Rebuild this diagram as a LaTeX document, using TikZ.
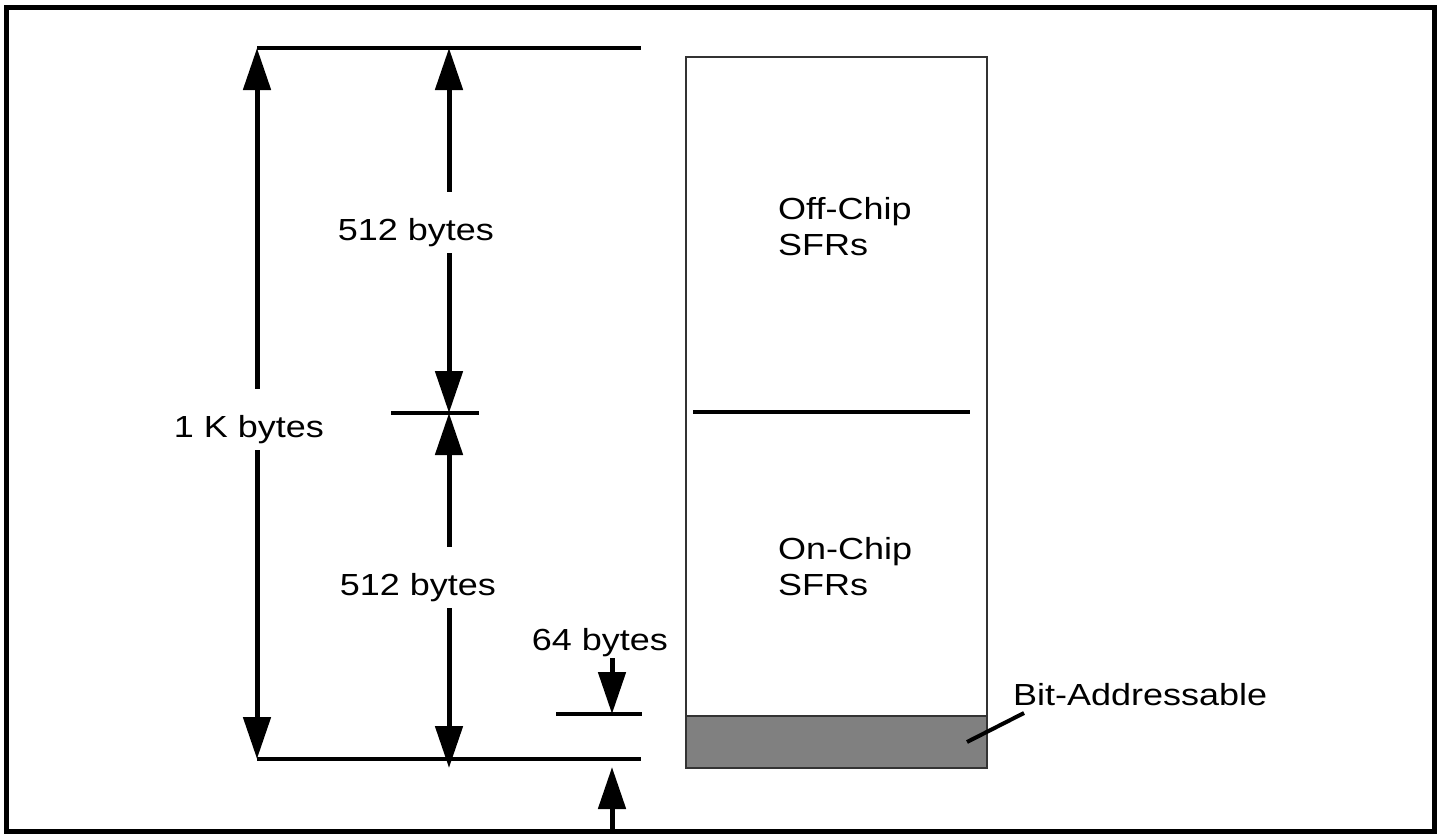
\documentclass[tikz,border=0pt]{standalone}
\usepackage{fontspec}
\setmainfont{Liberation Sans}[FakeStretch=1.18]
\usetikzlibrary{arrows.meta}

\begin{document}
\begin{tikzpicture}[x=1pt, y=-1pt,
    every node/.style={font=\fontsize{30.5}{36}\selectfont},
    refline/.style={line width=4pt},
    dimarrow/.style={line width=5pt, -{Triangle[length=42pt,width=27pt]}},
    dimlabel/.style={anchor=base, text height=41pt, text depth=6pt, inner ysep=7pt, inner xsep=0pt}]
    \definecolor{borderColour}{HTML}{333333}
    \definecolor{fillColourBit}{HTML}{808080}

    \useasboundingbox (0,0) rectangle (1442,835);

    % Outer frame
    \draw[line width=5pt] (6,7) rectangle (1434,831);

    % Reference points
    \coordinate (topL) at (257,48);
    \coordinate (topM) at (449,48);
    \coordinate (topR) at (641,48);
    \coordinate (midM) at (449,413);
    \coordinate (botL) at (257,759);
    \coordinate (botM) at (449,768);
    \coordinate (botR) at (641,759);
    \coordinate (bitTop) at (612,714);
    \coordinate (bitBot) at (612,767);
    \coordinate (frameBot) at (612,829);

    % Reference lines
    \draw[refline] (topL) -- (topR);
    \draw[refline] (botL) -- (botR);
    \draw[refline] (391,413) -- (479,413);
    \draw[refline] (556,714) -- (642,714);

    % Labels
    \node[dimlabel] (oneK) at (249,437) {1 K bytes};
    \node[dimlabel] (offBytes) at (416,240) {512 bytes};
    \node[dimlabel] (onBytes) at (418,595) {512 bytes};
    \node[anchor=base, inner sep=1.5pt] (bitBytes) at (600,650) {64 bytes};

    % Dimension arrows
    \draw[dimarrow] (oneK.north -| topL) -- (topL);
    \draw[dimarrow] (oneK.south -| botL) -- (botL);
    \draw[dimarrow] (offBytes.north -| topM) -- (topM);
    \draw[dimarrow] (offBytes.south -| midM) -- (midM);
    \draw[dimarrow] (onBytes.north -| midM) -- (midM);
    \draw[dimarrow] (onBytes.south -| botM) -- (botM);
    \draw[dimarrow] (bitBytes.south -| bitTop) -- (bitTop);
    \draw[dimarrow] (frameBot) -- (bitBot);

    % SFR memory block
    \draw[draw=borderColour, line width=2.5pt] (686,57) rectangle (987,768);
    \draw[refline] (693,412) -- (970,412);
    \draw[fill=fillColourBit, draw=borderColour, line width=2.5pt] (686,716) rectangle (987,768);

    \node[anchor=north west, align=left, inner sep=0pt] (offChip) at (778,197) {Off-Chip\\SFRs};
    \node[anchor=north west, align=left, inner sep=0pt] (onChip) at (778,537) {On-Chip\\SFRs};

    % Bit-addressable callout
    \node[anchor=base west, inner sep=0pt] (bitAddr) at (1013,705) {Bit-Addressable};
    \coordinate (bitPoint) at (967,742);
    \draw[line width=4pt] (bitPoint) -- (1024,713);

\end{tikzpicture}
\end{document}
